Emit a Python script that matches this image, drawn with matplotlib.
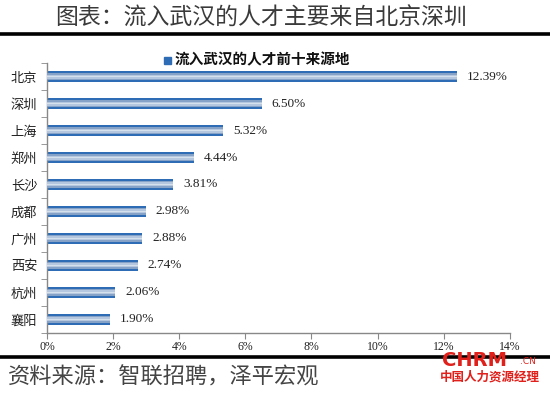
import matplotlib
matplotlib.use("Agg")
import matplotlib.pyplot as plt
from matplotlib.lines import Line2D
from matplotlib.patches import Rectangle

cities = ["北京", "深圳", "上海", "郑州", "长沙", "成都", "广州", "西安", "杭州", "襄阳"]
values = [12.39, 6.50, 5.32, 4.44, 3.81, 2.98, 2.88, 2.74, 2.06, 1.90]
xticks = [0, 2, 4, 6, 8, 10, 12, 14]
xticklabels = ["0%", "2%", "4%", "6%", "8%", "10%", "12%", "14%"]
title = "图表：流入武汉的人才主要来自北京深圳"
legend_label = "流入武汉的人才前十来源地"
source = "资料来源：智联招聘，泽平宏观"

cjk = ["Noto Sans CJK SC", "DejaVu Sans"]
serif = ["Liberation Serif", "DejaVu Serif"]

fig = plt.figure(figsize=(5.5, 3.94), dpi=100)
ax = fig.add_axes([0.0855, 0.155, 0.8415, 0.685])

ypos = list(range(len(cities)))[::-1]
h = 0.39
# layered bars to mimic the gradient fill
ax.barh(ypos, values, height=h, color="#2e6cb5", zorder=2)
ax.barh(ypos, values, height=h * 0.62, color="#86a2c6", zorder=3)
ax.barh(ypos, values, height=h * 0.38, color="#b4c7de", zorder=4)
ax.barh(ypos, values, height=h * 0.13, color="#d6e1ee", zorder=5)

for y, v in zip(ypos, values):
    ax.text(v + 0.3, y, f"{v:.2f}%", va="center", ha="left",
            fontsize=9.5, family=serif, color="#222222")

ax.set_xlim(0, 14)
ax.set_ylim(-0.5, len(cities) - 0.5)
ax.set_xticks(xticks)
ax.set_xticklabels(xticklabels, family=serif, fontsize=8.5, color="#222222")
ax.set_yticks(ypos)
ax.set_yticklabels(cities, family=cjk, fontsize=9.5, color="#222222")
ax.set_yticks([y - 0.5 for y in range(len(cities) + 1)], minor=True)
ax.tick_params(axis="y", which="major", length=0, pad=7)
ax.tick_params(axis="y", which="minor", length=4, color="#888888", direction="out")
ax.tick_params(axis="x", length=4, color="#888888", direction="out", pad=2)
for s in ["top", "right"]:
    ax.spines[s].set_visible(False)
for s in ["left", "bottom"]:
    ax.spines[s].set_color("#888888")
    ax.spines[s].set_linewidth(1.0)

# title and rules
fig.text(0.475, 0.954, title, ha="center", va="center", fontsize=16.5,
         family=cjk, color="#3a3a3a")
fig.add_artist(Line2D([0, 1], [1 - 34 / 394, 1 - 34 / 394], color="black", lw=2.6,
                      transform=fig.transFigure))
fig.add_artist(Line2D([0, 1], [1 - 357 / 394, 1 - 357 / 394], color="black", lw=2.6,
                      transform=fig.transFigure))

# legend
fig.add_artist(Rectangle((0.298, 1 - 64 / 394), 0.013, 0.018, color="#2e6cb5",
                         transform=fig.transFigure))
fig.text(0.318, 1 - 59 / 394, legend_label, ha="left", va="center", fontsize=10.5,
         fontweight="bold", family=cjk, color="#111111")

# source
fig.text(0.015, 1 - 377 / 394, source, ha="left", va="center", fontsize=16,
         family=cjk, style="italic", color="#444444")

# watermark
fig.text(0.803, 1 - 361 / 394, "CHRM", ha="left", va="center", fontsize=14,
         fontweight="bold", family=["DejaVu Sans"], color="#e0201b")
fig.text(0.945, 1 - 362 / 394, ".CN", ha="left", va="center", fontsize=6.5,
         family=["DejaVu Sans"], color="#e0201b")
fig.text(0.800, 1 - 377 / 394, "中国人力资源经理", ha="left", va="center", fontsize=9,
         fontweight="bold", family=cjk, color="#e0201b")

fig.savefig("out.png", dpi=100)
